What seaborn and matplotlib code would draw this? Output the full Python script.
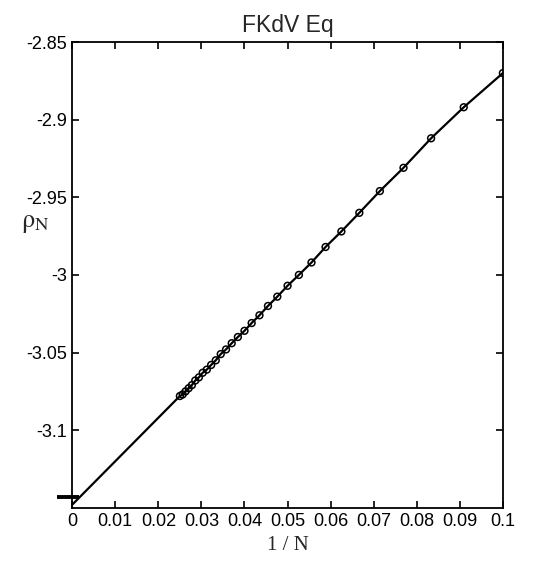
import matplotlib
matplotlib.use("Agg")
import matplotlib.pyplot as plt
import seaborn as sns
import pandas as pd

# Truncation sizes and the computed rho_N values
N = [10, 11, 12, 13, 14, 15, 16, 17, 18, 19, 20, 21, 22, 23, 24, 25,
     26, 27, 28, 29, 30, 31, 32, 33, 34, 35, 36, 37, 38, 39, 40]
rho = [-2.870, -2.892, -2.912, -2.931, -2.946, -2.960, -2.972, -2.982,
       -2.992, -3.000, -3.007, -3.014, -3.020, -3.026, -3.031, -3.036,
       -3.040, -3.044, -3.048, -3.051, -3.055, -3.058, -3.061, -3.063,
       -3.066, -3.068, -3.071, -3.073, -3.075, -3.077, -3.078]

# Extrapolated limit of the fitted line and the estimated limit value
rho_line0 = -3.148
rho_limit = -3.143

xticks = [0, 0.01, 0.02, 0.03, 0.04, 0.05, 0.06, 0.07, 0.08, 0.09, 0.1]
xtick_labels = ["0", "0.01", "0.02", "0.03", "0.04", "0.05", "0.06",
                "0.07", "0.08", "0.09", "0.1"]
yticks = [-3.1, -3.05, -3.0, -2.95, -2.9, -2.85]
ytick_labels = ["-3.1", "-3.05", "-3", "-2.95", "-2.9", "-2.85"]

df = pd.DataFrame({"invN": [1.0 / n for n in N], "rho": rho})
line_df = pd.DataFrame({"invN": [0.0] + list(df["invN"][::-1]),
                        "rho": [rho_line0] + rho[::-1]})

sns.set_style("ticks")
plt.rcParams["font.family"] = ["Liberation Sans Narrow", "Liberation Sans", "DejaVu Sans"]
plt.rcParams["axes.unicode_minus"] = False
plt.rcParams["mathtext.fontset"] = "stix"

fig = plt.figure(figsize=(5.39, 5.68), dpi=100)
ax = fig.add_axes([0.134, 0.106, 0.799, 0.820])

sns.lineplot(data=line_df, x="invN", y="rho", ax=ax, color="black",
             linewidth=1.6, sort=False, estimator=None)
sns.scatterplot(data=df, x="invN", y="rho", ax=ax, marker="o", s=24,
                facecolor="none", edgecolor="black", linewidth=1.1, zorder=3)

# Short thick bar marking the limit value at 1/N = 0
ax.plot([-0.0035, 0.0015], [rho_limit, rho_limit], color="black",
        linewidth=2.8, clip_on=False, solid_capstyle="butt", zorder=4)

ax.set_xlim(0, 0.1)
ax.set_ylim(-3.15, -2.85)
ax.set_xticks(xticks)
ax.set_xticklabels(xtick_labels)
ax.set_yticks(yticks)
ax.set_yticklabels(ytick_labels)
ax.tick_params(direction="in", length=5, width=1.2, labelsize=13,
               top=True, right=True, colors="black", pad=4)
for side in ax.spines.values():
    side.set_linewidth(1.3)
    side.set_color("black")

ax.set_xlabel("")
ax.set_ylabel("")
ax.set_title("FKdV Eq", fontsize=16.5, pad=7)
fig.text(0.535, 0.04, "1 / N", ha="center", va="center", fontsize=15,
         family="Liberation Serif")
fig.text(0.066, 0.607, r"$\mathrm{\rho}_\mathrm{N}$", ha="center",
         va="center", fontsize=19)

fig.savefig("out.png", dpi=100)
